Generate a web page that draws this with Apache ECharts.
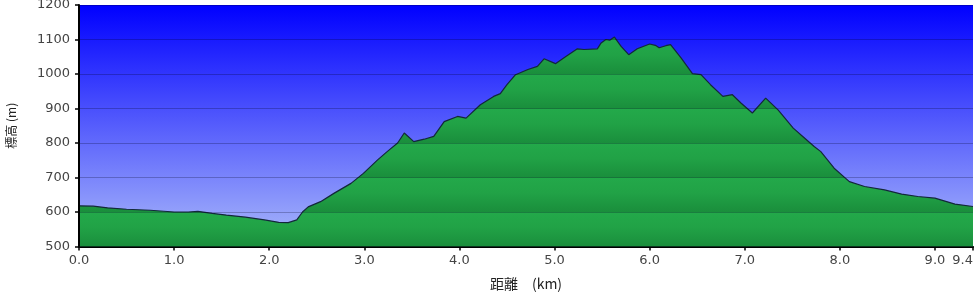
<!DOCTYPE html>
<html>
<head>
<meta charset="utf-8">
<script src="https://cdn.jsdelivr.net/npm/echarts@6/dist/echarts.min.js"></script>
<style>
html,body{margin:0;padding:0;background:#fff;}
#c{width:980px;height:298px;}
</style>
</head>
<body>
<div id="c"></div>
<script>
// distance (km)
var distances = [0.00,0.15,0.30,0.50,0.75,1.00,1.15,1.25,1.40,1.55,1.75,1.95,2.10,2.20,2.29,2.35,2.41,2.54,2.68,2.86,2.99,3.14,3.24,3.35,3.42,3.52,3.63,3.73,3.84,3.98,4.07,4.22,4.36,4.43,4.50,4.59,4.72,4.82,4.89,5.01,5.10,5.24,5.31,5.45,5.49,5.54,5.58,5.63,5.70,5.78,5.87,6.00,6.06,6.10,6.17,6.22,6.33,6.45,6.54,6.64,6.77,6.87,6.96,7.08,7.22,7.35,7.51,7.61,7.73,7.80,7.94,8.10,8.26,8.47,8.65,8.82,9.00,9.21,9.40];
// elevation (m)
var elevations = [618,617,612,608,605,600,600,602,596,591,585,577,570,569,577,600,615,630,654,683,712,751,775,800,829,804,811,819,862,877,872,911,935,943,969,998,1013,1022,1044,1030,1047,1073,1071,1073,1090,1100,1098,1107,1080,1056,1073,1087,1083,1076,1082,1085,1047,1001,998,969,935,940,916,887,930,896,843,819,790,775,727,688,674,664,652,645,640,623,616];
// x tick labels
var xTicks = [0,1,2,3,4,5,6,7,8,9,9.4];
var yMin = 500, yMax = 1200, yStep = 100;
var xTitle = '距離\u3000(km)';
var yTitle = '標高 (m)';

var gridTop = 5, gridBottom = 51.5, gridLeft = 79, gridRight = 7;
var H = 298;

var points = distances.map(function(d, i){ return [d, elevations[i]]; });

// banded green fill, one band per 100 m
var nb = (yMax - yMin) / yStep;
var stops = [];
for (var k = 0; k < nb; k++) {
  stops.push({offset: k/nb + 0.0005, color: '#23a94a'});
  stops.push({offset: k/nb + 0.45/nb, color: '#21a246'});
  stops.push({offset: (k+1)/nb - 0.0005, color: '#1a8e3c'});
}
var greenFill = new echarts.graphic.LinearGradient(0, gridTop, 0, H - gridBottom, stops, true);
var skyFill = new echarts.graphic.LinearGradient(0, 0, 0, 1, [
  {offset: 0, color: '#0000ff'},
  {offset: 1, color: '#abbafa'}
]);

var chart = echarts.init(document.getElementById('c'), null, {renderer: 'canvas'});
chart.setOption({
  animation: false,
  backgroundColor: '#ffffff',
  grid: {
    left: gridLeft, right: gridRight, top: gridTop, bottom: gridBottom,
    outerBoundsMode: 'none', containLabel: false,
    show: true, backgroundColor: skyFill, borderWidth: 0
  },
  xAxis: {
    type: 'value', min: 0, max: 9.4,
    name: xTitle, nameLocation: 'middle', nameGap: 30,
    nameTextStyle: {fontFamily: 'Noto Sans CJK JP', fontSize: 14, color: '#222'},
    axisLine: {show: true, lineStyle: {color: '#000', width: 2}},
    axisTick: {show: true, length: 4, lineStyle: {color: '#000', width: 1.5}, customValues: xTicks},
    axisLabel: {
      customValues: xTicks, margin: 8, color: '#444', fontSize: 13, fontFamily: 'DejaVu Sans',
      formatter: function(v){ return Number(v).toFixed(1); },
      alignMaxLabel: 'right'
    },
    splitLine: {show: false}
  },
  yAxis: {
    type: 'value', min: yMin, max: yMax, interval: yStep, z: 5,
    name: yTitle, nameLocation: 'middle', nameGap: 62, nameRotate: 90,
    nameTextStyle: {fontFamily: 'Noto Sans CJK JP', fontSize: 12, color: '#222'},
    axisLine: {show: true, lineStyle: {color: '#000', width: 2}},
    axisTick: {show: true, length: 4, lineStyle: {color: '#000', width: 1.5}},
    axisLabel: {margin: 9, color: '#444', fontSize: 13, fontFamily: 'DejaVu Sans',
      formatter: function(v){ return String(v); }},
    splitLine: {show: true, lineStyle: {color: 'rgba(0,0,30,0.25)', width: 1}}
  },
  series: [{
    type: 'line',
    data: points,
    showSymbol: false,
    symbol: 'none',
    smooth: false,
    lineStyle: {color: '#13283a', width: 1.2},
    areaStyle: {color: greenFill, opacity: 1, origin: 'start'},
    z: 2
  }]
});
</script>
</body>
</html>
